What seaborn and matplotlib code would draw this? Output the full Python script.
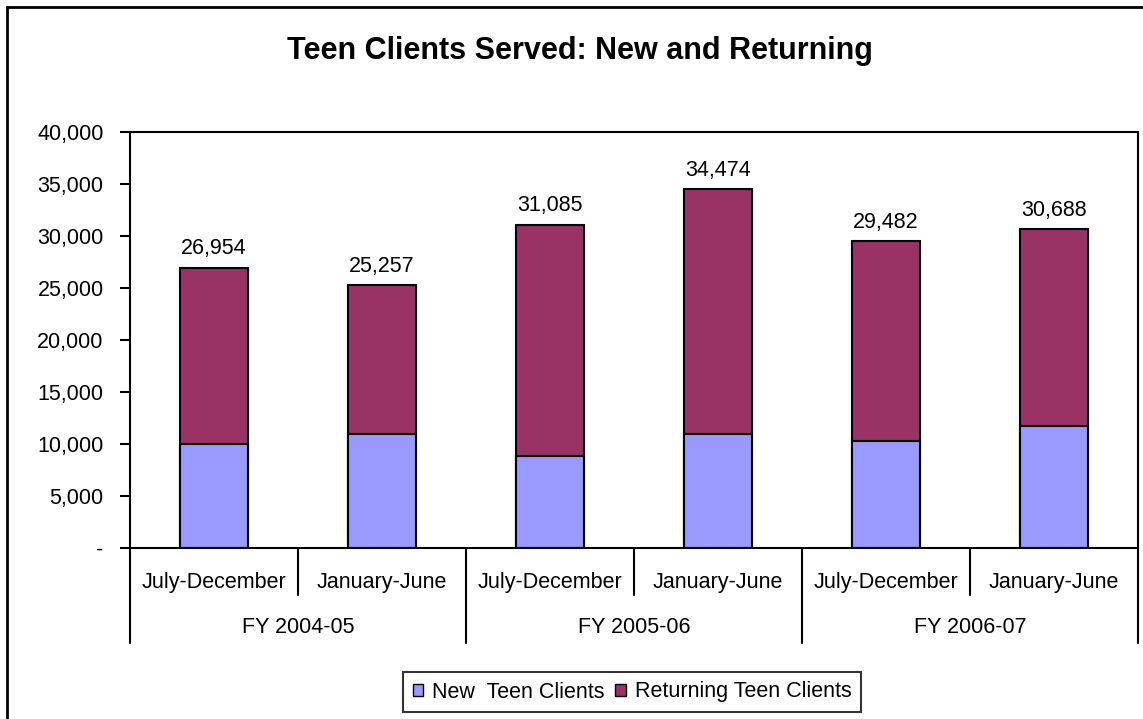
import matplotlib
matplotlib.use("Agg")
import matplotlib.pyplot as plt
from matplotlib.patches import Patch, Rectangle
from matplotlib.ticker import FuncFormatter
import seaborn as sns
import pandas as pd

# chart data
fiscal_years = ["FY 2004-05", "FY 2005-06", "FY 2006-07"]
periods = ["July-December", "January-June"]
new_clients = [10000, 10930, 8820, 10930, 10320, 11700]
total_clients = [26954, 25257, 31085, 34474, 29482, 30688]

NEW_COLOR = "#9999FF"
RET_COLOR = "#993366"
FS = 15.5

sns.set_theme(style="white")
plt.rcParams["font.family"] = ["Liberation Sans", "DejaVu Sans"]
plt.rcParams["text.color"] = "black"

slots = [f"{fy} {p}" for fy in fiscal_years for p in periods]
df = pd.DataFrame({"slot": slots, "new": new_clients, "total": total_clients})
df["returning"] = df["total"] - df["new"]

W, H = 1143, 719
fig = plt.figure(figsize=(W / 100, H / 100), dpi=100)
ax = fig.add_axes([130 / W, 1 - 548 / H, (1138 - 130) / W, (548 - 132) / H])

# stacked bars: totals first (returning part shows above new)
sns.barplot(data=df, x="slot", y="total", color=RET_COLOR, saturation=1,
            width=0.405, edgecolor="black", linewidth=1.5, ax=ax)
sns.barplot(data=df, x="slot", y="new", color=NEW_COLOR, saturation=1,
            width=0.405, edgecolor="black", linewidth=1.5, ax=ax)

ax.bar_label(ax.containers[0], labels=[f"{v:,}" for v in total_clients],
             padding=6, fontsize=FS, color="black")

ax.set_xlim(-0.5, len(slots) - 0.5)
ax.set_ylim(0, 40000)
ax.set_yticks(range(0, 40001, 5000))
ax.yaxis.set_major_formatter(FuncFormatter(lambda v, _: "-" if v == 0 else f"{int(v):,}"))
ax.tick_params(axis="y", labelsize=FS, length=7, width=1.5, color="black",
               left=True, pad=12, labelcolor="black")
ax.set_xticks([])
ax.set_xlabel("")
ax.set_ylabel("")
for s in ax.spines.values():
    s.set_visible(True)
    s.set_color("black")
    s.set_linewidth(1.5)

# two-level category axis
trans = ax.get_xaxis_transform()
for i in range(len(slots) + 1):
    depth = -0.228 if i % 2 == 0 else -0.113
    ax.plot([i - 0.5, i - 0.5], [0, depth], color="black", lw=1.5,
            transform=trans, clip_on=False)
for i, s in enumerate(slots):
    ax.text(i, -0.082, periods[i % 2], transform=trans, ha="center",
            va="center", fontsize=FS)
for g, fy in enumerate(fiscal_years):
    ax.text(2 * g + 0.5, -0.192, fy, transform=trans, ha="center",
            va="center", fontsize=FS)

fig.text(580 / W, 1 - 51 / H, "Teen Clients Served: New and Returning",
         ha="center", va="center", fontsize=22, fontweight="bold")

handles = [Patch(facecolor=NEW_COLOR, edgecolor="black", label="New  Teen Clients"),
           Patch(facecolor=RET_COLOR, edgecolor="black", label="Returning Teen Clients")]
leg = fig.legend(handles=handles, loc="center", bbox_to_anchor=(632 / W, 1 - 692 / H),
                 ncol=2, fontsize=FS, frameon=True, fancybox=False,
                 handlelength=0.5, handleheight=0.5, handletextpad=0.4,
                 columnspacing=0.5, borderpad=0.45)
leg.get_frame().set_edgecolor("black")
leg.get_frame().set_linewidth(1.5)

# outer chart border
fig.patches.append(Rectangle((7 / W, -0.1), 1.2, 1 - 7 / H + 0.1,
                             transform=fig.transFigure, fill=False,
                             edgecolor="black", linewidth=2))

fig.savefig("out.png", dpi=100, facecolor="white")
